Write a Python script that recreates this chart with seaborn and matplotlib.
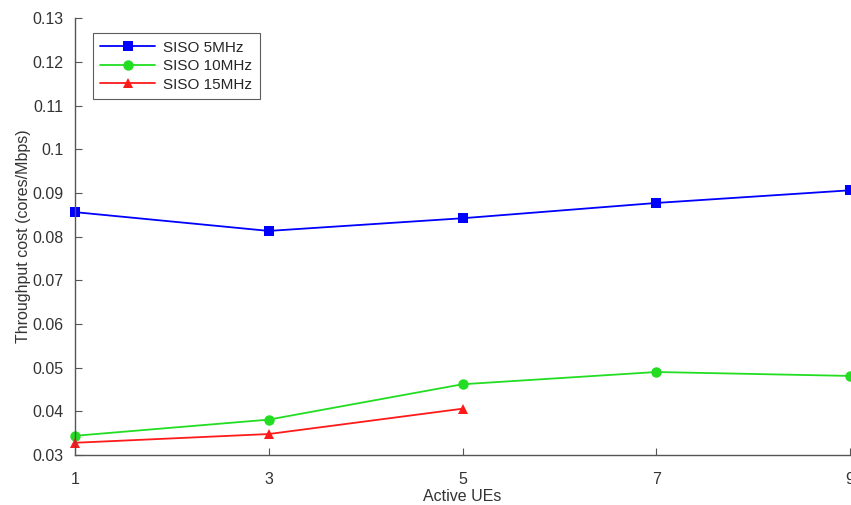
import matplotlib
matplotlib.use("Agg")
import matplotlib.pyplot as plt
import seaborn as sns
import pandas as pd

ues = [1, 3, 5, 7, 9]
siso_5 = [0.0856, 0.0813, 0.0842, 0.0877, 0.0906]
siso_10 = [0.0344, 0.0381, 0.0462, 0.0490, 0.0481]
ues_15 = [1, 3, 5]
siso_15 = [0.0328, 0.0348, 0.0406]
labels = ["SISO 5MHz", "SISO 10MHz", "SISO 15MHz"]
colors = ["#0000ff", "#22dd22", "#ff1a1a"]
markers = ["s", "o", "^"]

df = pd.concat([
    pd.DataFrame({"UEs": ues, "cost": siso_5, "series": labels[0]}),
    pd.DataFrame({"UEs": ues, "cost": siso_10, "series": labels[1]}),
    pd.DataFrame({"UEs": ues_15, "cost": siso_15, "series": labels[2]}),
])

sns.set_style("ticks")
plt.rcParams["font.family"] = ["Liberation Sans", "DejaVu Sans"]

fig = plt.figure(figsize=(8.51, 5.05), dpi=100)
ax = fig.add_axes([0.088, 0.099, 0.911, 0.865])

sns.lineplot(data=df, x="UEs", y="cost", hue="series", style="series",
             palette=dict(zip(labels, colors)), markers=dict(zip(labels, markers)),
             dashes=False, markersize=7.5, linewidth=1.3, markeredgewidth=0,
             ax=ax, legend=True)
for ln in ax.lines:
    ln.set_clip_on(False)

ax.set_xlim(1, 9)
ax.set_ylim(0.03, 0.13)
ax.set_xticks([1, 3, 5, 7, 9])
ax.set_xticklabels(["1", "3", "5", "7", "9"])
ax.set_yticks([0.03, 0.04, 0.05, 0.06, 0.07, 0.08, 0.09, 0.1, 0.11, 0.12, 0.13])
ax.set_yticklabels(["0.03", "0.04", "0.05", "0.06", "0.07", "0.08", "0.09", "0.1", "0.11", "0.12", "0.13"])
ax.tick_params(direction="in", length=5, color="#555555", labelsize=11.5, labelcolor="#333333")
ax.tick_params(axis="x", pad=12)
ax.tick_params(axis="y", pad=8)
for s in ["top", "right"]:
    ax.spines[s].set_visible(False)
for s in ["left", "bottom"]:
    ax.spines[s].set_color("#555555")
    ax.spines[s].set_linewidth(1.0)
ax.set_xlabel("Active UEs", fontsize=11.5, color="#333333", labelpad=2)
ax.set_ylabel("Throughput cost (cores/Mbps)", fontsize=11.5, color="#333333", labelpad=1)

leg = ax.legend(loc="upper left", bbox_to_anchor=(0.023, 0.966), borderaxespad=0,
                fontsize=11, frameon=True, fancybox=False, edgecolor="#333333",
                handlelength=3.6, borderpad=0.5, labelspacing=0.3, handletextpad=0.5)
leg.get_frame().set_linewidth(0.8)

fig.savefig("out.png", dpi=100)
